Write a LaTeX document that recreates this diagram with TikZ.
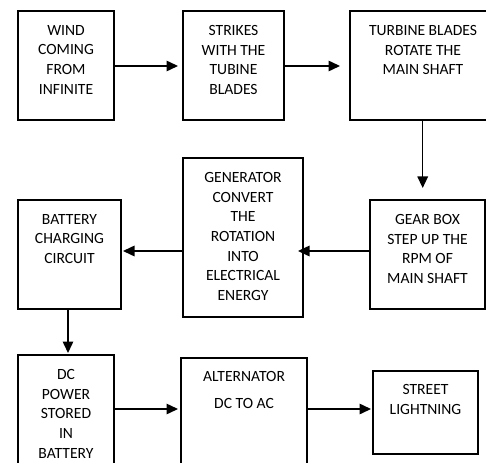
\documentclass[tikz,border=0pt]{standalone}
\usepackage{fontspec}
\setmainfont{Carlito}
\usetikzlibrary{arrows.meta}
\begin{document}
\begin{tikzpicture}[x=1pt,y=-1pt,
  blk/.style={draw=black,line width=1.6pt,rectangle,inner sep=0pt,outer sep=0pt},
  txt/.style={anchor=north,inner sep=0pt,align=center,text=black,
    font=\fontsize{15.6pt}{19.7pt}\selectfont},
  arr/.style={line width=1.5pt,-{Triangle[length=11.5pt,width=10.5pt]}}]
\useasboundingbox (0,0) rectangle (486,462);
\clip (0,0) rectangle (486,462);
% boxes
\node[blk,minimum width=96pt,minimum height=109pt] (b1) at (66,65.5) {};
\node[blk,minimum width=101pt,minimum height=109pt] (b2) at (233.5,65.5) {};
\node[blk,minimum width=146pt,minimum height=109pt] (b3) at (423,65.5) {};
\node[blk,minimum width=115pt,minimum height=109pt] (b4) at (427.5,254.5) {};
\node[blk,minimum width=120pt,minimum height=159pt] (gen) at (243,237.5) {};
\node[blk,minimum width=103pt,minimum height=109pt] (bc) at (69.5,254.5) {};
\node[blk,minimum width=96pt,minimum height=120pt] (dc) at (66,415) {};
\node[blk,minimum width=126pt,minimum height=117pt] (alt) at (244,416.5) {};
\node[blk,minimum width=105pt,minimum height=83pt] (st) at (425.5,412.5) {};
% texts
\node[txt] (t1) at ([yshift=-14pt]b1.north) {WIND\\COMING\\FROM\\INFINITE};
\node[txt] (t2) at ([yshift=-14pt]b2.north) {STRIKES\\WITH THE\\TUBINE\\BLADES};
\node[txt] (t3) at ([yshift=-14pt]b3.north) {TURBINE BLADES\\ROTATE THE\\MAIN SHAFT};
\node[txt] (t4) at ([yshift=-14pt]b4.north) {GEAR BOX\\STEP UP THE\\RPM OF\\MAIN SHAFT};
\node[txt] (tg) at ([yshift=-14pt]gen.north) {GENERATOR\\CONVERT\\THE\\ROTATION\\INTO\\ELECTRICAL\\ENERGY};
\node[txt] (tb) at ([yshift=-14pt]bc.north) {BATTERY\\CHARGING\\CIRCUIT};
\node[txt] (td) at ([yshift=-14pt]dc.north) {DC\\POWER\\STORED\\IN\\BATTERY};
\node[txt] (ta) at ([yshift=-13pt]alt.north) {ALTERNATOR\\[7.3pt]DC TO AC};
\node[txt] (ts) at ([yshift=-13pt]st.north) {STREET\\LIGHTNING};
% connector levels
\coordinate (h1) at (0,66);
\coordinate (h2) at (0,251);
\coordinate (h3) at (0,409);
\coordinate (v1) at (422.7,0);
\coordinate (v2) at (68,0);
% connectors
\draw[arr,shorten >=5pt] (b1.east |- h1) -- (b2.west |- h1);
\draw[arr,shorten >=10pt] (b2.east |- h1) -- (b3.west |- h1);
\draw[arr,shorten >=12pt] (b3.south -| v1) -- (b4.north -| v1);
\draw[arr,shorten >=-5pt] (b4.west |- h2) -- (gen.east |- h2);
\draw[arr,shorten >=2pt] (gen.west |- h2) -- (bc.east |- h2);
\draw[arr,shorten >=2pt] (bc.south -| v2) -- (dc.north -| v2);
\draw[arr,shorten >=3pt] (dc.east |- h3) -- (alt.west |- h3);
\draw[arr,shorten >=2pt] (alt.east |- h3) -- (st.west |- h3);
\end{tikzpicture}
\end{document}
